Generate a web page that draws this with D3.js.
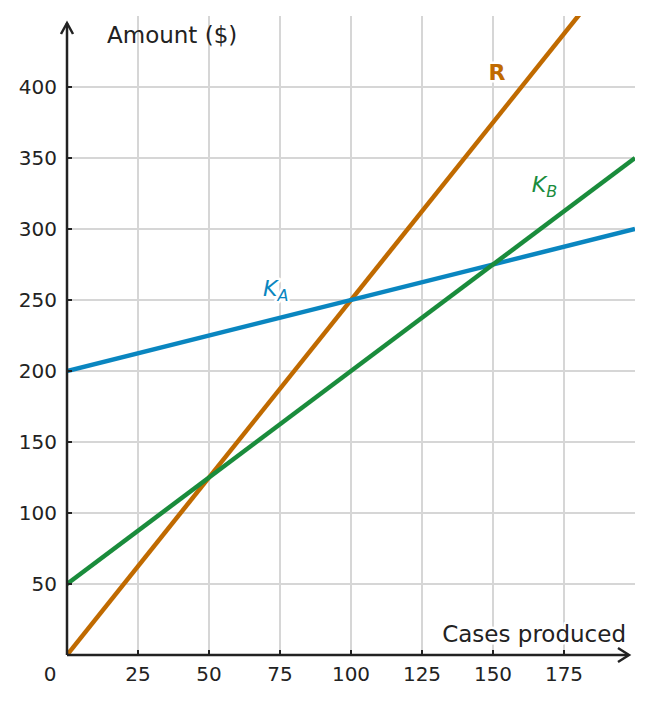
<!DOCTYPE html>
<html>
<head>
<meta charset="utf-8">
<script src="https://cdn.jsdelivr.net/npm/d3@7"></script>
<style>
  body { margin: 0; background: #fff; }
  text { font-family: "DejaVu Sans", sans-serif; fill: #222; }
  .halo { stroke: #fff; stroke-width: 5px; paint-order: stroke; stroke-linejoin: round; }
</style>
</head>
<body>
<svg width="652" height="704"></svg>
<script>
const svg = d3.select('svg');

// data
const xTicks = [25, 50, 75, 100, 125, 150, 175];
const yTicks = [50, 100, 150, 200, 250, 300, 350, 400];
const xs = [0, 200];
const lines = [
    { name: 'R', color: '#c06a00', values: [0, 500], label: [150, 410] },
    { name: 'KA', color: '#0a86c0', values: [200, 300], label: [75, 255] },
    { name: 'KB', color: '#1a8c3c', values: [50, 350], label: [170, 328] }
];

const x = d3.scaleLinear().domain([0, 200]).range([67, 635]);
const y = d3.scaleLinear().domain([0, 450]).range([655, 16]);

const defs = svg.append('defs');
defs.append('clipPath').attr('id', 'plot')
  .append('rect')
    .attr('x', x(0)).attr('y', y(450))
    .attr('width', x(200) - x(0)).attr('height', y(0) - y(450));

// grid
svg.append('g').selectAll('line').data(xTicks)
  .enter().append('line')
    .attr('x1', d => x(d)).attr('x2', d => x(d))
    .attr('y1', y(450)).attr('y2', y(0))
    .attr('stroke', '#d6d6d6').attr('stroke-width', 2);
svg.append('g').selectAll('line').data(yTicks)
  .enter().append('line')
    .attr('x1', x(0)).attr('x2', x(200))
    .attr('y1', d => y(d)).attr('y2', d => y(d))
    .attr('stroke', '#d6d6d6').attr('stroke-width', 2);

// lines
const line = d3.line().x((d, i) => x(xs[i])).y(d => y(d));
svg.append('g').attr('clip-path', 'url(#plot)')
  .selectAll('path').data(lines)
  .enter().append('path')
    .attr('d', d => line(d.values))
    .attr('fill', 'none')
    .attr('stroke', d => d.color)
    .attr('stroke-width', 4.5);

// axes
const axisColor = '#222';
svg.append('line')
    .attr('x1', x(0)).attr('x2', 628)
    .attr('y1', y(0)).attr('y2', y(0))
    .attr('stroke', axisColor).attr('stroke-width', 2.5);
svg.append('path')
    .attr('d', `M618,${y(0) - 7} L629,${y(0)} L618,${y(0) + 7}`)
    .attr('fill', 'none').attr('stroke', axisColor).attr('stroke-width', 2.5);
svg.append('line')
    .attr('x1', x(0)).attr('x2', x(0))
    .attr('y1', y(0)).attr('y2', 23)
    .attr('stroke', axisColor).attr('stroke-width', 2.5);
svg.append('path')
    .attr('d', `M${x(0) - 6},34 L${x(0)},23 L${x(0) + 6},34`)
    .attr('fill', 'none').attr('stroke', axisColor).attr('stroke-width', 2.5);

// ticks
svg.append('g').selectAll('line').data(xTicks)
  .enter().append('line')
    .attr('x1', d => x(d)).attr('x2', d => x(d))
    .attr('y1', y(0)).attr('y2', y(0) - 5)
    .attr('stroke', axisColor).attr('stroke-width', 2);
svg.append('g').selectAll('line').data(yTicks)
  .enter().append('line')
    .attr('x1', x(0)).attr('x2', x(0) + 5)
    .attr('y1', d => y(d)).attr('y2', d => y(d))
    .attr('stroke', axisColor).attr('stroke-width', 2);

svg.append('g').selectAll('text').data(xTicks)
  .enter().append('text')
    .attr('x', d => x(d)).attr('y', 681)
    .attr('text-anchor', 'middle')
    .attr('font-size', 20)
    .text(d => d);
svg.append('g').selectAll('text').data(yTicks)
  .enter().append('text')
    .attr('x', 57).attr('y', d => y(d) + 7)
    .attr('text-anchor', 'end')
    .attr('font-size', 20)
    .text(d => d);
svg.append('text').attr('x', 50).attr('y', 681)
    .attr('text-anchor', 'middle').attr('font-size', 20).text('0');

svg.append('text').attr('x', 107).attr('y', 43)
    .attr('font-size', 23).text('Amount ($)');
svg.append('text').attr('class', 'halo').attr('x', 626).attr('y', 642)
    .attr('text-anchor', 'end').attr('font-size', 23).text('Cases produced');

// line labels
const lab = svg.append('g');
const r = lines[0], ka = lines[1], kb = lines[2];
lab.append('text').attr('class', 'halo')
    .attr('x', x(r.label[0]) + 4).attr('y', y(r.label[1]) + 7)
    .attr('text-anchor', 'middle').attr('font-size', 22).attr('font-weight', 'bold')
    .style('fill', r.color).text('R');
const t1 = lab.append('text').attr('class', 'halo')
    .attr('x', x(ka.label[0]) - 17).attr('y', y(ka.label[1]) + 3)
    .attr('font-size', 22).attr('font-style', 'italic').style('fill', ka.color);
t1.append('tspan').text('K');
t1.append('tspan').attr('font-size', 16).attr('dy', 5).text('A');
const t2 = lab.append('text').attr('class', 'halo')
    .attr('x', x(kb.label[0]) - 18).attr('y', y(kb.label[1]) + 3)
    .attr('font-size', 22).attr('font-style', 'italic').style('fill', kb.color);
t2.append('tspan').text('K');
t2.append('tspan').attr('font-size', 16).attr('dy', 5).text('B');
</script>
</body>
</html>
